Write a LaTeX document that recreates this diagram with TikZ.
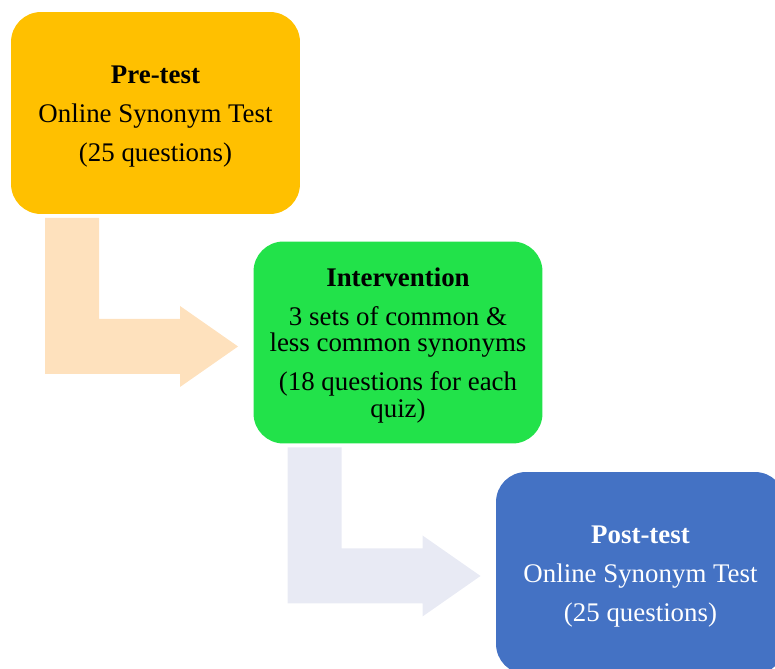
\documentclass[tikz,border=0pt]{standalone}
\usepackage{fontspec}
\setmainfont{Liberation Serif}
\usepackage{tikz}
\usetikzlibrary{calc}
\usepackage{xcolor}

\definecolor{preorange}{HTML}{FFC000}
\definecolor{intgreen}{HTML}{22E24A}
\definecolor{postblue}{HTML}{4472C4}
\definecolor{arrowpeach}{HTML}{FEE1BD}
\definecolor{arrowgrey}{HTML}{E8EAF4}

\tikzset{
  stagebox/.style={rounded corners=0.6cm, minimum width=5.78cm, minimum height=4.04cm,
    inner sep=2pt, outer sep=0pt, align=center, font=\fontsize{15.3}{15.2}\selectfont},
}

% bold first line of a box, with some room above it
\newcommand{\stagetitle}[1]{\rule{0pt}{14pt}\textbf{#1}}

% bent arrow, #1 = top left corner, #2 = fill colour
\newcommand{\bentarrow}[2]{%
  \fill[#2] (#1) -- ++(54,0) -- ++(0,101) -- ++(81,0) -- ++(0,-13)
    -- ++(58,40.5) -- ++(-58,40.5) -- ++(0,-13) -- ++(-135,0) -- cycle;}

\begin{document}
\begin{tikzpicture}[x=0.02cm,y=-0.02cm]
		\clip (0,0) rectangle (775,669);
		\useasboundingbox (0,0) rectangle (775,669);
		
		% Stages
		\node[stagebox,fill=preorange] (pretest) at (155.5,113)
		  {\stagetitle{Pre-test}\\[7pt] Online Synonym Test\\[7pt] (25 questions)};
		\node[stagebox,fill=intgreen] (intervention) at (398,342.5)
		  {\stagetitle{Intervention}\\[7pt] 3 sets of common \&\\ less common synonyms\\[7pt] (18 questions for each\\ quiz)};
		\node[stagebox,fill=postblue,text=white] (posttest) at (640.5,573)
		  {\stagetitle{Post-test}\\[7pt] Online Synonym Test\\[7pt] (25 questions)};
		
		% Arrows between stages
		\bentarrow{$(pretest.south west)+(34,4)$}{arrowpeach}
		\bentarrow{$(intervention.south west)+(34,4)$}{arrowgrey}
	\end{tikzpicture}
\end{document}
